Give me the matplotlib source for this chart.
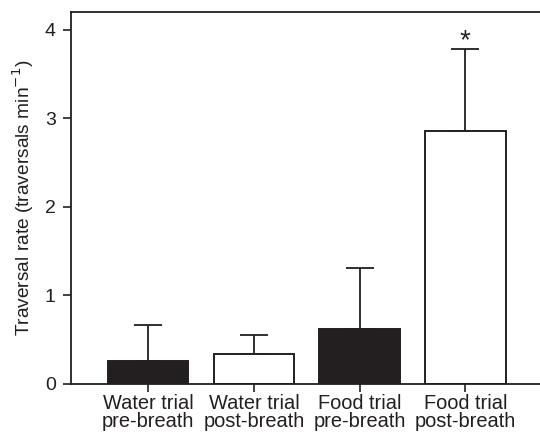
import numpy as np
import matplotlib
matplotlib.use('Agg')
import matplotlib.pyplot as plt

plt.rcParams['font.family'] = ['Liberation Sans', 'DejaVu Sans']

# data
labels = ['Water trial\npre-breath', 'Water trial\npost-breath',
          'Food trial\npre-breath', 'Food trial\npost-breath']
means = [0.26, 0.335, 0.62, 2.86]
err_up = [0.41, 0.215, 0.69, 0.92]
colors = ['#231f20', 'white', '#231f20', 'white']

ink = '#231f20'
x = np.arange(len(labels))

fig = plt.figure(figsize=(5.4, 4.34), dpi=100)
ax = fig.add_axes([71/540, 50/434, 480/540, 372/434])

ax.bar(x, means, width=0.76, color=colors, edgecolor=ink, linewidth=1.4, zorder=2)
ax.errorbar(x, means, yerr=[np.zeros(len(means)), err_up], fmt='none',
            ecolor=ink, elinewidth=1.3, capsize=10, capthick=1.3, zorder=1)

# significance marker
ax.text(x[3], means[3] + err_up[3] - 0.06, '*', ha='center', va='bottom',
        fontsize=20, color=ink)

ax.set_xlim(-0.73, 3.81)
ax.set_ylim(0, 4.2)
ax.set_yticks([0, 1, 2, 3, 4])
ax.set_xticks(x)
ax.set_xticklabels(labels, fontsize=14.4, linespacing=0.95)
ax.tick_params(axis='y', labelsize=14, direction='out', length=6, width=1.2, colors=ink, pad=5)
ax.tick_params(axis='x', direction='out', length=6, width=1.2, colors=ink, pad=1)
ax.set_ylabel('Traversal rate (traversals min$^{-1}$)', fontsize=13.8, color=ink, labelpad=6)

ax.spines['right'].set_visible(False)
for s in ['left', 'top', 'bottom']:
    ax.spines[s].set_linewidth(1.3)
    ax.spines[s].set_color(ink)

fig.savefig('out.png', dpi=100)
